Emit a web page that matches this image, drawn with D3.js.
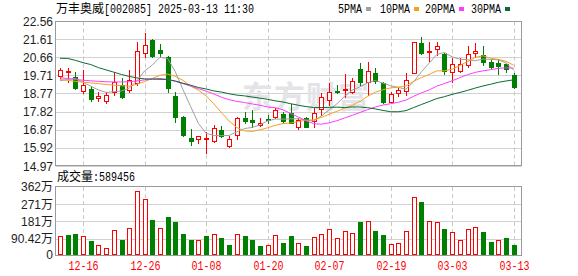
<!DOCTYPE html>
<html>
<head>
<meta charset="utf-8">
<script src="https://cdn.jsdelivr.net/npm/d3@7"></script>
<style>
  body { margin: 0; background: #fff; }
  svg { display: block; font-family: "Liberation Sans", Arial, "Noto Sans CJK SC", sans-serif; }
</style>
</head>
<body>
<div id="chart"></div>
<script>
// trading days shown (MM-DD)
var dates = ["12-11","12-12","12-13","12-16","12-17","12-18","12-19","12-20","12-23","12-24",
  "12-25","12-26","12-27","12-30","12-31","01-02","01-03","01-06","01-07","01-08",
  "01-09","01-10","01-13","01-14","01-15","01-16","01-17","01-20","01-21","01-22",
  "01-23","01-24","01-27","02-05","02-06","02-07","02-10","02-11","02-12","02-13",
  "02-14","02-17","02-18","02-19","02-20","02-21","02-24","02-25","02-26","02-27",
  "02-28","03-03","03-04","03-05","03-06","03-07","03-10","03-11","03-12","03-13"];

var open  = [19.70,19.91,19.64,18.91,19.02,18.54,18.39,18.83,19.21,18.95,
  19.30,20.87,21.57,21.04,20.69,18.63,17.55,16.45,16.38,16.37,
  16.28,16.85,16.03,16.59,17.50,17.38,17.14,17.44,17.55,17.70,
  17.73,17.03,17.50,17.34,17.94,18.42,18.92,18.95,18.86,20.05,
  19.35,19.82,19.30,18.34,18.78,18.91,19.82,21.39,21.00,21.08,
  20.83,19.91,19.96,20.26,20.87,20.78,20.40,20.38,20.31,19.73];
var high  = [20.12,20.08,19.87,19.99,19.09,18.86,18.83,19.87,19.56,19.99,
  21.48,21.92,21.62,21.36,20.72,18.83,17.59,16.92,16.56,16.77,
  17.12,17.08,16.56,17.55,17.81,17.90,17.47,17.64,17.99,17.80,
  18.21,17.47,17.55,17.99,18.78,19.30,19.21,19.77,19.59,20.35,
  20.40,20.08,19.38,18.86,19.04,19.85,21.44,21.71,21.44,21.48,
  20.87,20.61,20.61,21.27,21.39,21.25,20.52,20.55,20.35,19.85];
var low   = [19.56,19.35,19.00,18.78,18.39,18.37,18.25,18.69,18.54,18.86,
  19.21,20.69,20.66,20.69,18.83,17.26,16.54,16.07,16.16,15.63,
  16.21,16.50,15.95,16.37,17.20,17.00,17.08,17.20,17.47,17.25,
  17.20,16.91,17.00,17.03,17.64,18.16,18.78,18.60,18.78,19.21,
  18.69,19.30,18.25,18.25,18.65,18.69,19.82,20.83,20.48,20.78,
  19.79,19.38,19.87,20.17,20.69,20.26,20.08,19.77,19.87,19.04];
var close = [19.99,19.93,19.07,19.21,18.49,18.65,18.69,19.38,18.60,19.47,
  21.01,21.30,20.73,20.90,19.04,17.52,16.59,16.29,16.56,16.45,
  16.94,16.54,16.38,17.47,17.34,17.26,17.23,17.42,17.90,17.30,
  17.22,17.38,17.03,17.73,18.57,18.86,18.91,18.98,19.43,19.38,
  19.96,19.43,18.34,18.74,18.95,19.47,21.44,20.90,21.01,21.25,
  19.96,20.29,20.31,20.83,20.99,20.43,20.17,20.22,20.03,19.12];
var prevClose = 19.70;

// volume, in 万
var volume = [102,107,113,106,78,59,43,134,86,144,
  338,296,186,144,202,177,114,86,81,102,
  116,95,59,116,102,81,53,59,111,66,
  102,69,50,100,116,142,95,132,122,176,
  181,128,107,64,69,128,310,280,181,176,
  139,123,85,142,153,123,71,81,92,58.9];

var ma5  = [19.43,19.50,19.55,19.35,19.15,18.95,18.82,18.86,18.90,19.05,
  19.43,19.95,20.25,20.66,20.60,19.90,18.96,18.07,17.20,16.68,
  16.57,16.56,16.57,16.76,16.93,16.99,17.12,17.33,17.43,17.42,
  17.44,17.44,17.37,17.33,17.59,17.91,18.22,18.61,18.95,19.11,
  19.33,19.44,19.31,19.17,19.08,18.99,19.39,19.90,20.35,20.81,
  20.91,20.68,20.56,20.53,20.48,20.57,20.55,20.53,20.37,19.99];
var ma10 = [19.50,19.45,19.40,19.36,19.32,19.28,19.24,19.20,19.17,19.15,
  19.25,19.39,19.55,19.72,19.78,19.66,19.45,19.15,18.94,18.64,
  18.23,17.76,17.32,16.98,16.81,16.78,16.86,16.97,17.10,17.19,
  17.22,17.30,17.36,17.39,17.51,17.68,17.83,17.99,18.14,18.35,
  18.62,18.83,18.96,19.06,19.10,19.16,19.41,19.60,19.76,19.95,
  19.95,20.04,20.23,20.44,20.65,20.74,20.61,20.55,20.45,20.24];
var ma20 = [19.59,19.55,19.50,19.46,19.43,19.40,19.38,19.37,19.37,19.38,
  19.42,19.48,19.52,19.55,19.50,19.40,19.28,19.15,19.02,18.89,
  18.74,18.57,18.44,18.35,18.29,18.22,18.15,18.06,18.02,17.91,
  17.72,17.53,17.34,17.18,17.16,17.23,17.34,17.48,17.62,17.77,
  17.92,18.06,18.16,18.23,18.31,18.42,18.62,18.80,18.95,19.15,
  19.29,19.43,19.60,19.75,19.87,19.95,20.01,20.08,20.11,20.09];
var ma30 = [20.61,20.60,20.50,20.38,20.28,20.12,20.00,19.88,19.76,19.66,
  19.58,19.53,19.52,19.51,19.50,19.42,19.30,19.20,19.08,19.00,
  18.90,18.84,18.75,18.68,18.64,18.58,18.52,18.46,18.38,18.32,
  18.23,18.15,18.08,18.03,18.03,18.04,18.05,18.03,18.06,18.06,
  18.02,17.96,17.88,17.81,17.81,17.87,18.03,18.19,18.34,18.50,
  18.60,18.72,18.82,18.93,19.05,19.16,19.25,19.35,19.42,19.48];

var priceTicks = [14.97,15.92,16.87,17.82,18.77,19.71,20.66,21.61,22.56];
var volTicks = [0, 90.42, 181, 271, 361.68];
var volTickLabels = ["0","90.42万","181万","271万","362万"];
var dateTicks = ["12-16","12-26","01-08","01-20","02-07","02-19","03-03","03-13"];

var maNames = ["5PMA","10PMA","20PMA","30PMA"];
var maColors = ["#a0a0a0","#f4a11f","#ff3cff","#0b6b33"];

var RED = "#ff0000", GREEN = "#008000";

var width = 578, height = 276;
var plotLeft = 55.5, plotRight = 521.5;

var svg = d3.select("#chart").append("svg")
    .attr("width", width)
    .attr("height", height);

// scales
var x = d3.scaleBand().domain(dates).range([56.15, 56.15 + 7.69 * dates.length]);
var y = d3.scaleLinear().domain([14.97, 22.56]).range([166, 21]);
var yv = d3.scaleLinear().domain([0, 361.68]).range([256, 186.7]);

function cx(d) { return Math.round(x(d) + x.bandwidth() / 2); }

// ---- grid ----
var grid = svg.append("g");
grid.selectAll(".hp").data(priceTicks).enter().append("line")
    .attr("x1", plotLeft).attr("x2", plotRight)
    .attr("y1", function(d) { return Math.round(y(d)) + 0.5; })
    .attr("y2", function(d) { return Math.round(y(d)) + 0.5; })
    .attr("stroke", "#d2d2d2");
grid.selectAll(".hv").data(volTicks.slice(1, 4)).enter().append("line")
    .attr("x1", plotLeft).attr("x2", plotRight)
    .attr("y1", function(d) { return Math.round(yv(d)) + 0.5; })
    .attr("y2", function(d) { return Math.round(yv(d)) + 0.5; })
    .attr("stroke", "#d2d2d2");
[[21.5, 165.5], [187, 255]].forEach(function(r) {
  grid.selectAll(null).data(dateTicks).enter().append("line")
      .attr("x1", function(d) { return cx(d) + 0.5; })
      .attr("x2", function(d) { return cx(d) + 0.5; })
      .attr("y1", r[0]).attr("y2", r[1])
      .attr("stroke", "#c8c8c8")
      .attr("stroke-dasharray", "4,3");
});

// watermark
svg.append("text")
    .attr("x", 242).attr("y", 108)
    .attr("font-family", "'Noto Sans CJK SC', sans-serif")
    .attr("font-size", 31).attr("font-weight", "bold")
    .attr("fill", "#e3e3e8")
    .attr("letter-spacing", 1)
    .text("东方财富");

// frames
svg.append("rect").attr("x", plotLeft).attr("y", 21.5).attr("width", plotRight - plotLeft).attr("height", 144)
    .attr("fill", "none").attr("stroke", "#9a9a9a");
svg.append("rect").attr("x", plotLeft).attr("y", 186.5).attr("width", plotRight - plotLeft).attr("height", 69)
    .attr("fill", "none").attr("stroke", "#9a9a9a");

// ---- candles ----
var idx = d3.range(dates.length);
var cg = svg.append("g").attr("shape-rendering", "crispEdges");
idx.forEach(function(i) {
  var c = cx(dates[i]);
  var up = close[i] >= open[i];
  var col = up ? RED : GREEN;
  var top = Math.round(y(Math.max(open[i], close[i])));
  var bot = Math.round(y(Math.min(open[i], close[i])));
  cg.append("line")
      .attr("x1", c + 0.5).attr("x2", c + 0.5)
      .attr("y1", Math.round(y(high[i]))).attr("y2", Math.round(y(low[i])) + 1)
      .attr("stroke", col);
  if (bot - top < 2) {
    cg.append("rect").attr("x", c - 2).attr("y", top).attr("width", 5).attr("height", Math.max(bot - top, 1) + 1)
        .attr("fill", col);
  } else if (up) {
    cg.append("rect").attr("x", c - 1.5).attr("y", top + 0.5).attr("width", 4).attr("height", bot - top)
        .attr("fill", "#fff").attr("stroke", col);
  } else {
    cg.append("rect").attr("x", c - 2).attr("y", top).attr("width", 5).attr("height", bot - top + 1)
        .attr("fill", col);
  }
});

// ---- moving averages ----
[ma5, ma10, ma20, ma30].forEach(function(s, k) {
  svg.append("path")
      .datum(s)
      .attr("fill", "none")
      .attr("stroke", maColors[k])
      .attr("stroke-width", 1)
      .attr("d", d3.line()
        .x(function(d, i) { return x(dates[i]) + x.bandwidth() / 2; })
        .y(function(d) { return y(d); }));
});

// ---- volume ----
var vg = svg.append("g").attr("shape-rendering", "crispEdges");
idx.forEach(function(i) {
  var c = cx(dates[i]);
  var pc = i === 0 ? prevClose : close[i - 1];
  var up = close[i] >= pc;
  var t = Math.round(yv(volume[i]));
  if (up) {
    vg.append("rect").attr("x", c - 1.5).attr("y", t + 0.5).attr("width", 4).attr("height", 254 - t)
        .attr("fill", "#fff").attr("stroke", RED);
  } else {
    vg.append("rect").attr("x", c - 2).attr("y", t).attr("width", 5).attr("height", 255 - t)
        .attr("fill", GREEN);
  }
});

// ---- axis labels ----
svg.append("g").selectAll("text").data(priceTicks).enter().append("text")
    .attr("x", 53).attr("y", function(d) { return y(d) + 4.5; })
    .attr("text-anchor", "end").attr("font-size", 12).attr("fill", "#1e1e1e")
    .text(function(d) { return d.toFixed(2); });

svg.append("g").selectAll("text").data(volTicks).enter().append("text")
    .attr("x", 53).attr("y", function(d) { return Math.min(yv(d), 254) + 4.5; })
    .attr("text-anchor", "end").attr("font-size", 12).attr("fill", "#1e1e1e")
    .text(function(d, i) { return volTickLabels[i]; });

svg.append("g").selectAll("text").data(dateTicks).enter().append("text")
    .attr("x", function(d) { return cx(d) + 0.5 - 15; })
    .attr("y", 270)
    .attr("font-family", "'Liberation Mono', monospace")
    .attr("font-size", 12).attr("fill", RED)
    .attr("textLength", 30).attr("lengthAdjust", "spacingAndGlyphs")
    .text(function(d) { return d; });

// ---- title / legend ----
svg.append("text").attr("x", 56).attr("y", 13)
    .attr("font-family", "'Noto Sans CJK SC', sans-serif").attr("font-size", 12).attr("fill", "#000")
    .text("万丰奥威");
svg.append("text").attr("x", 104).attr("y", 13)
    .attr("font-family", "'Liberation Mono', monospace").attr("font-size", 12).attr("fill", "#000")
    .attr("textLength", 150).attr("lengthAdjust", "spacingAndGlyphs")
    .text("[002085] 2025-03-13 11:30");

var legX = [338, 380, 425, 471];
maNames.forEach(function(n, k) {
  svg.append("text").attr("x", legX[k]).attr("y", 13)
      .attr("font-family", "'Liberation Mono', monospace").attr("font-size", 12).attr("fill", "#000")
      .attr("textLength", n.length * 6).attr("lengthAdjust", "spacingAndGlyphs")
      .text(n);
  svg.append("rect").attr("x", legX[k] + n.length * 6 + 4).attr("y", 7).attr("width", 5).attr("height", 4)
      .attr("fill", maColors[k]);
});

svg.append("text").attr("x", 57).attr("y", 181)
    .attr("font-family", "'Noto Sans CJK SC', sans-serif").attr("font-size", 12).attr("fill", "#000")
    .text("成交量");
svg.append("text").attr("x", 93).attr("y", 181)
    .attr("font-family", "'Liberation Mono', monospace").attr("font-size", 12).attr("fill", "#000")
    .attr("textLength", 42).attr("lengthAdjust", "spacingAndGlyphs")
    .text(":589456");
</script>
</body>
</html>
